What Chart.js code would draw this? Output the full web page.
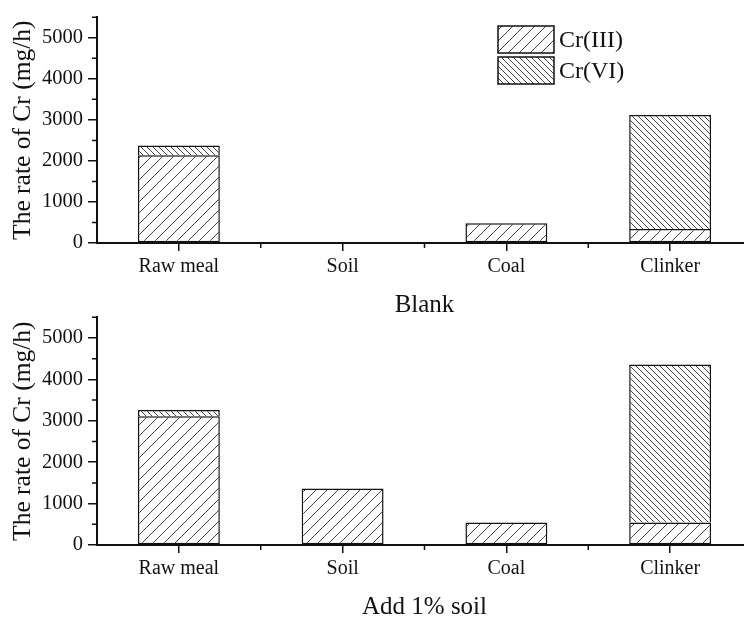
<!DOCTYPE html>
<html>
<head>
<meta charset="utf-8">
<script src="https://cdn.jsdelivr.net/npm/chart.js@4/dist/chart.umd.min.js"></script>
<style>
  html, body { margin: 0; padding: 0; background: #fff; overflow: hidden; width: 744px; height: 622px; }
  #wrap { position: relative; width: 744px; height: 622px; overflow: hidden; }
  canvas { position: absolute; left: 0; }
  #c1 { top: 0; }
  #c2 { top: 300px; }
</style>
</head>
<body>
<div id="wrap">
  <canvas id="c1" width="760" height="320"></canvas>
  <canvas id="c2" width="760" height="322"></canvas>
</div>
<script>
// ---- data ----
const categories = ['Raw meal', 'Soil', 'Coal', 'Clinker'];
const seriesNames = ['Cr(III)', 'Cr(VI)'];
const blankCr3 = [2140, 0, 480, 340];
const blankCr6 = [235, 0, 0, 2780];
const soilCr3 = [3110, 1367, 546, 546];
const soilCr6 = [150, 0, 0, 3813];
const yMajorTicks = [0, 1000, 2000, 3000, 4000, 5000];
const yMinorTicks = [500, 1500, 2500, 3500, 4500, 5500];
const yMax = 5500;
const yTitle = 'The rate of Cr (mg/h)';
const panelTitles = ['Blank', 'Add 1% soil'];

const FONT = "'Liberation Serif', 'Times New Roman', serif";
const INK = '#111';

function hatch(spacing, dir) {
  const c = document.createElement('canvas');
  c.width = spacing; c.height = spacing;
  const g = c.getContext('2d');
  g.fillStyle = '#fff';
  g.fillRect(0, 0, spacing, spacing);
  g.strokeStyle = '#444';
  g.lineWidth = 1;
  g.beginPath();
  if (dir === '/') {
    for (const o of [-spacing, 0, spacing]) {
      g.moveTo(o, spacing); g.lineTo(o + spacing, 0);
    }
  } else {
    for (const o of [-spacing, 0, spacing]) {
      g.moveTo(o, 0); g.lineTo(o + spacing, spacing);
    }
  }
  g.stroke();
  return g.createPattern(c, 'repeat');
}

const pat3 = hatch(11, '/');
const pat6 = hatch(6, '\\');

const decor = {
  id: 'decor',
  afterDraw(chart, args, opts) {
    const { ctx, scales: { x, y } } = chart;
    ctx.save();
    ctx.strokeStyle = INK;
    ctx.lineWidth = 1.5;
    ctx.beginPath();
    yMinorTicks.forEach(v => {
      const py = y.getPixelForValue(v);
      ctx.moveTo(x.left - 5, py); ctx.lineTo(x.left, py);
    });
    for (let i = 0; i < categories.length - 1; i++) {
      const px = (x.getPixelForValue(i) + x.getPixelForValue(i + 1)) / 2;
      ctx.moveTo(px, y.bottom); ctx.lineTo(px, y.bottom + 5);
    }
    ctx.stroke();
    if (opts.legend) {
      const bx = 498, by = 26, bw = 56, bh = 27, gap = 4;
      [pat3, pat6].forEach((p, i) => {
        const yy = by + i * (bh + gap);
        ctx.fillStyle = p;
        ctx.fillRect(bx, yy, bw, bh);
        ctx.lineWidth = 1.5;
        ctx.strokeStyle = INK;
        ctx.strokeRect(bx, yy, bw, bh);
        ctx.fillStyle = INK;
        ctx.font = '24px ' + FONT;
        ctx.textBaseline = 'middle';
        ctx.textAlign = 'left';
        ctx.fillText(seriesNames[i], bx + bw + 5, yy + bh / 2 + 1);
      });
    }
    ctx.restore();
  }
};

function makeChart(id, d3, d6, title, padTop, showLegend) {
  const bw = c => (c.raw === 0 ? 0 : 1.5);
  return new Chart(document.getElementById(id), {
    type: 'bar',
    data: {
      labels: categories,
      datasets: [
        { label: seriesNames[0], data: d3, backgroundColor: pat3, borderColor: INK, borderWidth: bw, borderSkipped: false },
        { label: seriesNames[1], data: d6, backgroundColor: pat6, borderColor: INK, borderWidth: bw, borderSkipped: 'bottom' }
      ]
    },
    plugins: [decor],
    options: {
      responsive: false,
      animation: false,
      devicePixelRatio: 1,
      layout: { padding: { top: padTop, left: 0, right: 8, bottom: 0 } },
      datasets: { bar: { barPercentage: 1, categoryPercentage: 0.5 } },
      plugins: {
        legend: { display: false },
        tooltip: { enabled: false },
        decor: { legend: showLegend }
      },
      scales: {
        x: {
          stacked: true,
          offset: true,
          grid: { display: true, drawOnChartArea: false, offset: false, tickLength: 8, color: INK, lineWidth: 1.5 },
          border: { display: true, color: INK, width: 2 },
          ticks: { color: INK, font: { family: FONT, size: 20 }, padding: 4, maxRotation: 0 },
          title: { display: true, text: title, color: INK, font: { family: FONT, size: 25 }, padding: { top: 0, bottom: 0 } },
          afterFit: a => { a.height = 77; }
        },
        y: {
          stacked: true,
          min: 0,
          max: yMax,
          afterBuildTicks: a => { a.ticks = yMajorTicks.map(v => ({ value: v })); },
          grid: { display: true, drawOnChartArea: false, tickLength: 9, color: INK, lineWidth: 1.5 },
          border: { display: true, color: INK, width: 2 },
          ticks: { color: INK, font: { family: FONT, size: 20.5 }, padding: 5, callback: v => String(v) },
          title: { display: true, text: yTitle, color: INK, font: { family: FONT, size: 25.5 }, padding: { top: 8, bottom: 0 } },
          afterFit: a => { a.width = 97; }
        }
      }
    }
  });
}

makeChart('c1', blankCr3, blankCr6, panelTitles[0], 8, true);
makeChart('c2', soilCr3, soilCr6, panelTitles[1], 10, false);
</script>
</body>
</html>
